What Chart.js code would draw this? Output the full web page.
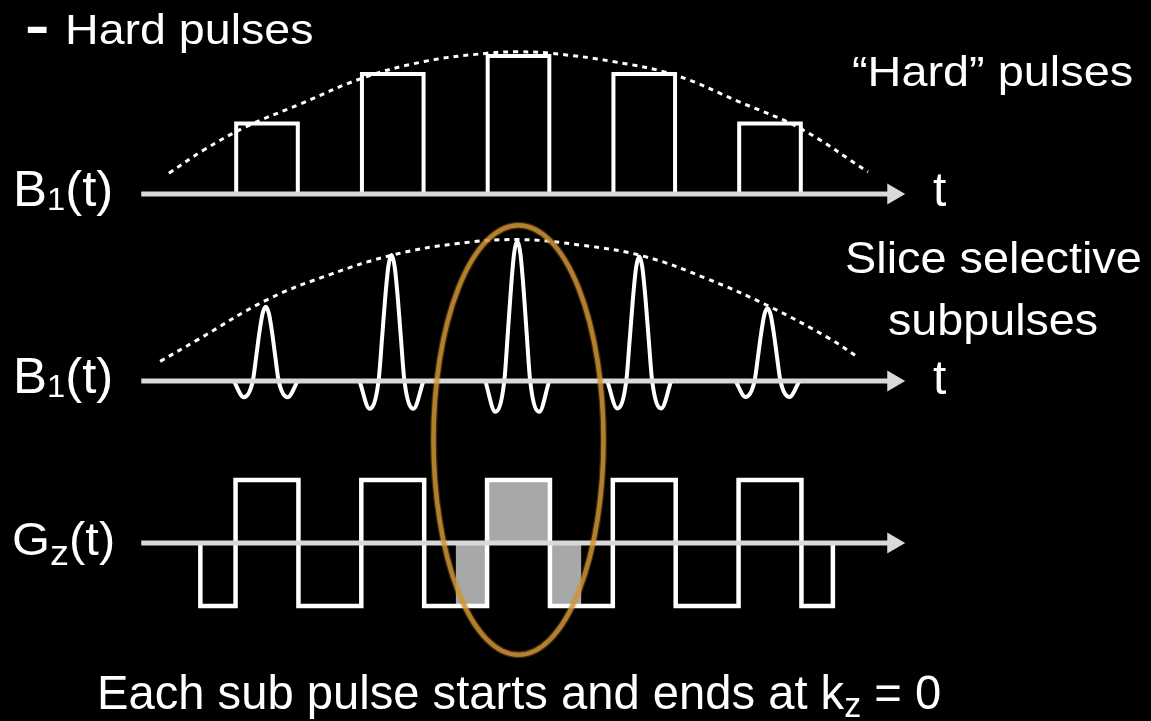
<!DOCTYPE html>
<html>
<head>
<meta charset="utf-8">
<script src="https://cdn.jsdelivr.net/npm/chart.js@4"></script>
<style>
html, body { margin: 0; padding: 0; background: #000; overflow: hidden; }
#wrap { position: relative; width: 1151px; height: 721px; background: #000; }
#wrap canvas { position: absolute; left: 0; top: 0; }
.lbl { position: absolute; color: #fff; font-family: "Liberation Sans", Arial, sans-serif; line-height: 1; white-space: nowrap; transform-origin: 0 0; }
.lbl sub { line-height: 0; }
</style>
</head>
<body>
<div id="wrap"><canvas id="chart" width="1151" height="721"></canvas></div>
<script>
// time in pulse periods, amplitudes normalised to the centre pulse
const hardCenters = [1, 2, 3, 4, 5];
const hardHeights = [0.51, 0.87, 1.0, 0.87, 0.51];
const hardWidth = 0.49;

const hardEnvT = [0.22, 0.5, 0.84, 1.26, 1.76, 2.25, 2.75, 3.0, 3.25, 3.75, 4.25, 4.75, 5.25, 5.78];
const hardEnvA = [0.15, 0.32, 0.49, 0.65, 0.84, 0.96, 1.02, 1.03, 1.02, 0.96, 0.86, 0.67, 0.47, 0.16];

const subCenters = [0.99, 1.99, 2.99, 3.96, 4.98];
const subPeaks = [0.53, 0.90, 1.0, 0.89, 0.52];
// one sinc subpulse
const sincOffsets = [-0.254, -0.175, -0.103, -0.075, -0.05, -0.025, 0, 0.025, 0.05, 0.075, 0.103, 0.175, 0.254];
const sincShape = [0, -0.22, 0, 0.34, 0.66, 0.91, 1, 0.91, 0.66, 0.34, 0, -0.22, 0];

const subEnvT = [0.15, 0.44, 1.0, 1.5, 2.0, 2.5, 3.0, 3.5, 4.0, 4.5, 5.0, 5.46, 5.70];
const subEnvA = [0.14, 0.29, 0.58, 0.76, 0.90, 0.98, 1.01, 0.97, 0.89, 0.73, 0.53, 0.31, 0.17];

const gzEdges = [0.47, 0.75, 1.25, 1.75, 2.25, 2.75, 3.25, 3.75, 4.25, 4.75, 5.25, 5.5];
const gzLobes = [-1, 1, -1, 1, -1, 1, -1, 1, -1, 1, -1];
const shadeFrom = 2.5, shadeTo = 3.5;

const axisEnd = 5.98;

// highlight ellipse (time, Gz units)
const ringCenter = [3.0, 1.635];
const ringRadius = [0.676, 3.41];

// layout: where t=0 sits and how big one unit is on screen
const W = 1151, H = 721;
const t0px = 141.25, pxPerT = 125.75;
const rows = {
  yHard: { zero: 194, px: 138 },
  ySub: { zero: 381, px: 140 },
  yGz: { zero: 543, px: 63 }
};

function rowScale(r) {
  return { type: 'linear', display: false, min: -(H - r.zero) / r.px, max: r.zero / r.px };
}

function rectPath(centers, heights, width) {
  const pts = [];
  centers.forEach((c, i) => {
    pts.push({ x: c - width / 2, y: 0 }, { x: c - width / 2, y: heights[i] },
             { x: c + width / 2, y: heights[i] }, { x: c + width / 2, y: 0 }, { x: c, y: null });
  });
  return pts;
}

function sincPath() {
  const pts = [];
  subCenters.forEach((c, i) => {
    sincOffsets.forEach((o, j) => pts.push({ x: c + o, y: subPeaks[i] * sincShape[j] }));
    pts.push({ x: c + 0.3, y: null });
  });
  return pts;
}

function gzPath(from, to) {
  const pts = [];
  for (let i = 0; i < gzLobes.length; i++) {
    const a = Math.max(gzEdges[i], from), b = Math.min(gzEdges[i + 1], to);
    if (b <= a) continue;
    pts.push({ x: a, y: 0 }, { x: a, y: gzLobes[i] }, { x: b, y: gzLobes[i] }, { x: b, y: 0 });
  }
  return pts;
}

function zip(xs, ys) { return xs.map((x, i) => ({ x: x, y: ys[i] })); }

const white = '#ffffff';
const axisGrey = '#d9d9d9';

function axisSet(yID) {
  return {
    data: [{ x: 0, y: 0 }, { x: axisEnd, y: 0 }], yAxisID: yID, showLine: true,
    borderColor: axisGrey, borderWidth: 5, pointRadius: [0, 12], pointStyle: 'triangle',
    rotation: 90, pointBackgroundColor: axisGrey, pointBorderWidth: 0, order: 1
  };
}

function envelopeSet(xs, ys, yID) {
  return {
    data: zip(xs, ys), yAxisID: yID, showLine: true, tension: 0.4,
    borderColor: white, borderWidth: 3, borderDash: [5, 5], pointRadius: 0, order: 3
  };
}

// chalk-like ring drawn over everything
const ring = {
  id: 'ring',
  afterDatasetsDraw(chart) {
    const ctx = chart.ctx, x = chart.scales.x, y = chart.scales.yGz;
    const cx = x.getPixelForValue(ringCenter[0]), cy = y.getPixelForValue(ringCenter[1]);
    const rx = x.getPixelForValue(ringCenter[0] + ringRadius[0]) - cx;
    const ry = cy - y.getPixelForValue(ringCenter[1] + ringRadius[1]);
    ctx.save();
    ctx.strokeStyle = '#c88c30';
    ctx.globalAlpha = 0.3;
    ctx.lineWidth = 7;
    ctx.beginPath();
    ctx.ellipse(cx, cy, rx, ry, 0, 0, Math.PI * 2);
    ctx.stroke();
    ctx.globalAlpha = 0.8;
    ctx.lineWidth = 4.5;
    ctx.strokeStyle = '#d29536';
    ctx.beginPath();
    ctx.ellipse(cx, cy, rx, ry, 0, 0, Math.PI * 2);
    ctx.stroke();
    ctx.restore();
  }
};

new Chart(document.getElementById('chart'), {
  type: 'scatter',
  data: {
    datasets: [
      axisSet('yHard'), axisSet('ySub'), axisSet('yGz'),
      { data: rectPath(hardCenters, hardHeights, hardWidth), yAxisID: 'yHard', showLine: true,
        borderColor: white, borderWidth: 4, pointRadius: 0, borderJoinStyle: 'miter', order: 2 },
      { data: sincPath(), yAxisID: 'ySub', showLine: true, cubicInterpolationMode: 'monotone',
        borderColor: white, borderWidth: 4, pointRadius: 0, order: 2 },
      { data: gzPath(-10, 10), yAxisID: 'yGz', showLine: true,
        borderColor: white, borderWidth: 4.5, pointRadius: 0, borderJoinStyle: 'miter', order: 2 },
      { data: gzPath(shadeFrom, shadeTo), yAxisID: 'yGz', showLine: true, fill: 'origin',
        backgroundColor: '#a6a9a7', borderWidth: 0, pointRadius: 0, order: 5 },
      envelopeSet(hardEnvT, hardEnvA, 'yHard'),
      envelopeSet(subEnvT, subEnvA, 'ySub')
    ]
  },
  options: {
    responsive: false,
    animation: false,
    devicePixelRatio: 1,
    events: [],
    layout: { padding: 0, autoPadding: false },
    plugins: { legend: { display: false }, tooltip: { enabled: false } },
    scales: {
      x: { type: 'linear', display: false, min: -t0px / pxPerT, max: (W - t0px) / pxPerT },
      yHard: rowScale(rows.yHard),
      ySub: rowScale(rows.ySub),
      yGz: rowScale(rows.yGz)
    }
  },
  plugins: [ring]
});

// text labels: [html, left, baseline, font size, target width, bold]
const labels = [
  ['-', 25, 43, 52, 24, true],
  ['Hard pulses', 65, 44, 43, 248],
  ['\u201CHard\u201D pulses', 852, 86, 43, 281],
  ['B<sub style="font-size:0.64em;vertical-align:-4px">1</sub>(t)', 13, 206, 50, 100],
  ['t', 933, 207, 48, 0],
  ['Slice selective', 845, 273, 44, 297],
  ['subpulses', 888, 335, 44, 210],
  ['B<sub style="font-size:0.64em;vertical-align:-4px">1</sub>(t)', 13, 393, 50, 100],
  ['t', 933, 395, 48, 0],
  ['G<sub style="font-size:0.78em;vertical-align:-10px">z</sub>(t)', 12, 555, 46, 103],
  ['Each sub pulse starts and ends at k<sub style="font-size:0.72em;vertical-align:-8px">z</sub> = 0', 97, 710, 48, 844]
];

const wrap = document.getElementById('wrap');
labels.forEach(l => {
  const d = document.createElement('div');
  d.className = 'lbl';
  d.innerHTML = l[0];
  d.style.fontSize = l[3] + 'px';
  d.style.left = l[1] + 'px';
  d.style.top = (l[2] - 0.8465 * l[3]) + 'px';
  if (l[5]) d.style.fontWeight = 'bold';
  wrap.appendChild(d);
  if (l[4]) {
    const w = d.offsetWidth;
    d.style.transform = 'scaleX(' + (l[4] / w) + ')';
  }
});
</script>
</body>
</html>
